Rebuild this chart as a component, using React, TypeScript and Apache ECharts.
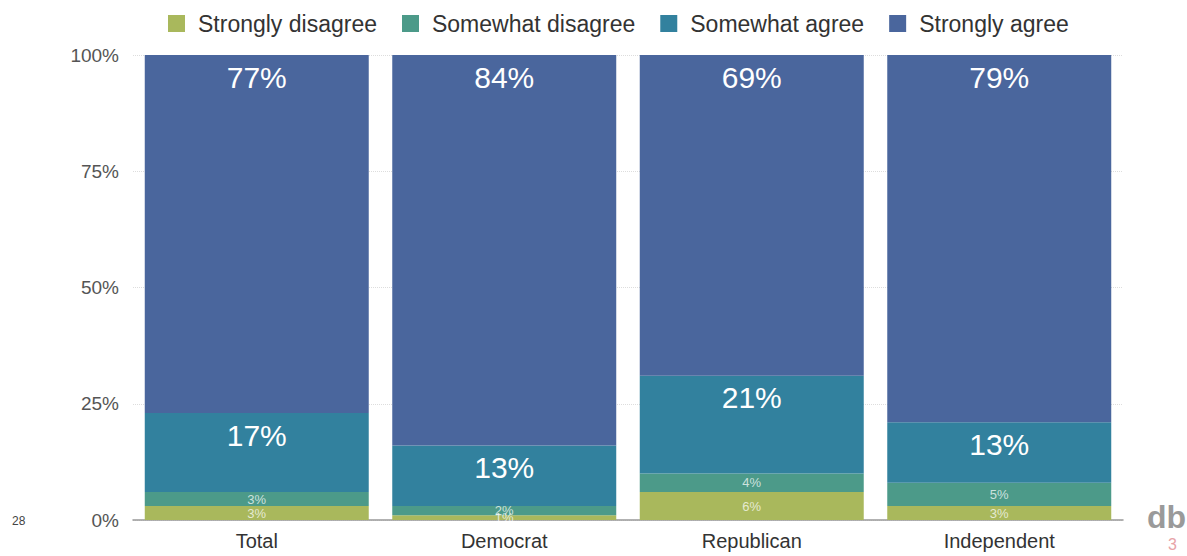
import React, { useEffect, useRef } from "react";
import * as echarts from "echarts";

const categories = ["Total", "Democrat", "Republican", "Independent"];
const seriesNames = ["Strongly disagree", "Somewhat disagree", "Somewhat agree", "Strongly agree"];
const stronglyDisagree = [3, 1, 6, 3];
const somewhatDisagree = [3, 2, 4, 5];
const somewhatAgree = [17, 13, 21, 13];
const stronglyAgree = [77, 84, 69, 79];
const yTicks = [0, 25, 50, 75, 100];
const colors = ["#a9b85c", "#4c9a89", "#32819e", "#4a669d"];

const FONT = "'Liberation Sans', 'Helvetica Neue', Arial, sans-serif";

export default function App() {
  const ref = useRef<HTMLDivElement>(null);
  useEffect(() => {
    if (!ref.current) return;
    const chart = echarts.init(ref.current, undefined, { renderer: "svg" });
    const values = [stronglyDisagree, somewhatDisagree, somewhatAgree, stronglyAgree];
    const small = {
      show: true,
      position: "inside",
      color: "rgba(255,255,255,0.72)",
      fontSize: 13,
      fontFamily: FONT,
      formatter: "{c}%",
    };
    const big = {
      show: true,
      position: "insideTop",
      distance: 7,
      color: "#ffffff",
      fontSize: 30,
      fontFamily: FONT,
      formatter: "{c}%",
    };
    chart.setOption({
      animation: false,
      backgroundColor: "#ffffff",
      textStyle: { fontFamily: FONT },
      legend: {
        top: 7,
        left: 163,
        itemWidth: 17,
        itemHeight: 17,
        itemGap: 25,
        icon: "rect",
        textStyle: { fontSize: 23, color: "#333", fontFamily: FONT, padding: [0, 0, 0, 8] },
        data: seriesNames,
      },
      grid: { left: 133, right: 64, top: 55, bottom: 36, containLabel: false },
      xAxis: {
        type: "category",
        data: categories,
        axisLine: { show: true, lineStyle: { color: "#999", width: 1.5 } },
        axisTick: { show: false },
        axisLabel: { fontSize: 20, color: "#333", margin: 11, fontFamily: FONT },
      },
      yAxis: {
        type: "value",
        min: yTicks[0],
        max: yTicks[yTicks.length - 1],
        interval: 25,
        axisLine: { show: false },
        axisTick: { show: false },
        axisLabel: { fontSize: 19, color: "#555", margin: 14, formatter: "{value}%", fontFamily: FONT },
        splitLine: { show: true, lineStyle: { color: "#ddd", type: "dotted" } },
      },
      series: seriesNames.map((name, i) => ({
        name,
        type: "bar",
        stack: "all",
        barCategoryGap: "9.5%",
        data: values[i],
        itemStyle: { color: colors[i] },
        label: i < 2 ? small : big,
      })),
      graphic: [
        { type: "text", left: 12, top: 515, style: { text: "28", fontSize: 12, fill: "#444", fontFamily: FONT } },
        { type: "text", left: 1147, top: 501, style: { text: "db", fontSize: 32, fontWeight: "bold", fill: "#9a9a9a", fontFamily: FONT } },
        { type: "text", left: 1168, top: 536, style: { text: "3", fontSize: 16, fill: "#e7a3a8", fontFamily: FONT } },
      ],
    });
    return () => chart.dispose();
  }, []);
  return <div ref={ref} style={{ position: "absolute", left: 0, top: 0, width: 1187, height: 556 }} />;
}
